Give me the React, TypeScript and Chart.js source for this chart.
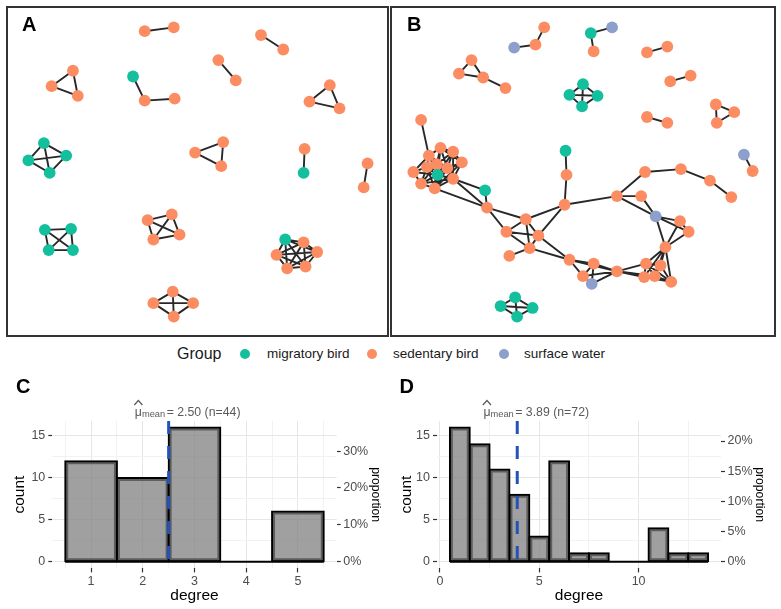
import React, { useEffect, useRef } from 'react';
import { Chart, registerables } from 'chart.js';

Chart.register(...registerables);

const FONT = '"Liberation Sans", Arial, Helvetica, sans-serif';
Chart.defaults.font.family = FONT;

// ---------- groups ----------
const GROUPS = ['migratory bird', 'sedentary bird', 'surface water'];
const GROUP_COLORS = ['#14BF9E', '#FC8D62', '#8DA0CB'];

// ---------- Panel A network (layout coordinates) ----------
const netAX = [143, 173, 263, 286, 219, 237, 69, 47, 74, 131, 143, 174, 334, 313, 344, 39, 23, 62, 45, 224, 195, 222, 308, 307, 373, 369, 40, 67, 44, 69, 146, 171, 179, 152, 288, 307, 321, 309, 290, 279, 172, 152, 193, 173];
const netAY = [26, 22, 30, 45, 56, 77, 67, 83, 93, 73, 98, 96, 82, 99, 106, 142, 160, 155, 173, 141, 152, 166, 148, 173, 163, 188, 232, 231, 253, 253, 222, 216, 237, 242, 242, 245, 255, 270, 272, 258, 296, 308, 308, 322];
const netAGroup = [1, 1, 1, 1, 1, 1, 1, 1, 1, 0, 1, 1, 1, 1, 1, 0, 0, 0, 0, 1, 1, 1, 1, 0, 1, 1, 0, 0, 0, 0, 1, 1, 1, 1, 0, 1, 1, 1, 1, 1, 1, 1, 1, 1];
const netAEdges = [
  [0, 1], [2, 3], [4, 5], [6, 7], [6, 8], [7, 8], [9, 10], [10, 11], [12, 13], [12, 14], [13, 14],
  [15, 16], [15, 17], [15, 18], [16, 17], [16, 18], [17, 18],
  [19, 20], [19, 21], [20, 21], [22, 23], [24, 25],
  [26, 27], [26, 28], [26, 29], [27, 28], [27, 29], [28, 29],
  [30, 31], [30, 32], [30, 33], [31, 32], [31, 33], [32, 33],
  [34, 35], [34, 36], [34, 37], [34, 38], [34, 39], [35, 36], [35, 37], [35, 38], [35, 39], [36, 37], [36, 38], [36, 39], [37, 38], [37, 39], [38, 39],
  [40, 41], [40, 42], [40, 43], [41, 42], [41, 43], [42, 43],
];

// ---------- Panel B network (layout coordinates) ----------
const netBX = [512, 534, 543, 591, 613, 594, 649, 670, 468, 455, 480, 503, 583, 569, 598, 582, 673, 694, 649, 670, 720, 739, 721, 749, 758, 513, 498, 531, 515,
  416, 436, 449, 424, 458, 432, 422, 443, 408, 433, 449, 416, 430, 482, 484, 524, 504, 537, 528, 507, 565, 566, 564, 618, 643, 658, 683, 692, 668, 647, 684, 714, 736, 569, 594, 583, 592, 618, 648, 663, 646, 657, 674];
const netBY = [43, 40, 22, 28, 22, 47, 48, 42, 56, 70, 74, 85, 81, 92, 93, 104, 78, 72, 115, 121, 102, 110, 121, 154, 171, 302, 311, 313, 322,
  118, 147, 151, 155, 162, 164, 167, 168, 172, 175, 179, 184, 189, 191, 209, 221, 234, 238, 251, 259, 150, 175, 206, 197, 197, 218, 223, 234, 250, 172, 169, 181, 198, 263, 267, 280, 288, 275, 267, 269, 281, 280, 286];
const netBGroup = [2, 1, 1, 0, 2, 1, 1, 1, 1, 1, 1, 1, 0, 0, 0, 0, 1, 1, 1, 1, 1, 1, 1, 2, 1, 0, 0, 0, 0,
  1, 1, 1, 1, 1, 1, 1, 1, 1, 0, 1, 1, 1, 0, 1, 1, 1, 1, 1, 1, 0, 1, 1, 1, 1, 2, 1, 1, 1, 1, 1, 1, 1, 1, 1, 1, 2, 1, 1, 1, 1, 1, 1];
const netBEdges = [
  [0, 1], [1, 2], [3, 4], [3, 5], [6, 7], [8, 9], [8, 10], [9, 10], [10, 11],
  [12, 13], [12, 14], [12, 15], [13, 14], [13, 15], [14, 15],
  [16, 17], [18, 19], [20, 21], [20, 22], [21, 22], [23, 24],
  [25, 26], [25, 27], [25, 28], [26, 27], [26, 28], [27, 28],
  [29, 32],
  [30, 31], [30, 32], [30, 33], [30, 34], [30, 36], [30, 38],
  [31, 33], [31, 34], [31, 36], [31, 39], [31, 38],
  [32, 34], [32, 35], [32, 37], [32, 36], [32, 38],
  [33, 36], [33, 39], [33, 38], [33, 41],
  [34, 35], [34, 36], [34, 38], [34, 40], [34, 41],
  [35, 37], [35, 38], [35, 40], [35, 41],
  [36, 38], [36, 39], [36, 41],
  [37, 40], [37, 38],
  [38, 39], [38, 40], [38, 41],
  [39, 41], [39, 40], [40, 41],
  [39, 42], [39, 43], [41, 43], [42, 43],
  [43, 44], [43, 45], [44, 45], [44, 46], [44, 47], [44, 51], [45, 46], [45, 47], [46, 47], [46, 51], [47, 48], [47, 62], [46, 62],
  [49, 50], [50, 51], [51, 52],
  [52, 53], [52, 54], [52, 58], [53, 54], [58, 59], [59, 60], [60, 61],
  [54, 55], [54, 56], [54, 57], [55, 56], [55, 57], [56, 57],
  [57, 67], [57, 68], [57, 69], [57, 70], [57, 71], [67, 68], [67, 69], [67, 70], [67, 71], [68, 70], [68, 71], [69, 70], [69, 71], [70, 71],
  [66, 67], [66, 69], [66, 70],
  [62, 63], [62, 64], [62, 66], [63, 64], [63, 65], [63, 66], [64, 65], [64, 66], [65, 66],
];

// ---------- Histogram C ----------
const degreeC = [1, 2, 3, 4, 5];
const countC = [12, 10, 16, 0, 6];
const nC = 44;
const meanC = 2.5;
const xMajorC = [1, 2, 3, 4, 5];
const xMinorC = [0.5, 1.5, 2.5, 3.5, 4.5, 5.5];
const propTicksC = [0, 0.1, 0.2, 0.3];

// ---------- Histogram D ----------
const degreeD = [1, 2, 3, 4, 5, 6, 7, 8, 9, 10, 11, 12, 13];
const countD = [16, 14, 11, 8, 3, 12, 1, 1, 0, 0, 4, 1, 1];
const nD = 72;
const meanD = 3.89;
const xMajorD = [0, 5, 10];
const xMinorD = [2.5, 7.5, 12.5];
const propTicksD = [0, 0.05, 0.1, 0.15, 0.2];

// shared count ticks
const countMajor = [0, 5, 10, 15];
const countMinor = [2.5, 7.5, 12.5];

// ---------- plugins ----------
const framePlugin = {
  id: 'panelFrame',
  afterDraw(chart: any, _args: any, opts: any) {
    const ctx = chart.ctx;
    const w = chart.width;
    const h = chart.height;
    ctx.save();
    ctx.strokeStyle = '#333333';
    ctx.lineWidth = 2;
    ctx.strokeRect(1, 1, w - 2, h - 2);
    ctx.fillStyle = '#000';
    ctx.font = `bold 20px ${FONT}`;
    ctx.textBaseline = 'alphabetic';
    ctx.textAlign = 'left';
    ctx.fillText(opts.label, opts.x, opts.y);
    ctx.restore();
  },
};

const histLabelsPlugin = {
  id: 'histLabels',
  afterDraw(chart: any, _args: any, opts: any) {
    const ctx = chart.ctx;
    ctx.save();
    ctx.fillStyle = '#000';
    ctx.font = `bold 20px ${FONT}`;
    ctx.textBaseline = 'alphabetic';
    ctx.textAlign = 'left';
    ctx.fillText(opts.letter, opts.letterX, opts.letterY);

    const mx = chart.scales.x.getPixelForValue(opts.mean);
    const base = opts.baseY;
    const grey = '#5A5A5A';
    ctx.fillStyle = grey;
    ctx.font = `12.3px ${FONT}`;
    ctx.fillText(`= ${opts.mean.toFixed(2)} (n=${opts.n})`, mx - 2, base);
    ctx.font = `9.3px ${FONT}`;
    ctx.textAlign = 'right';
    ctx.fillText('mean', mx - 3.5, base + 1);
    const meanW = ctx.measureText('mean').width;
    ctx.font = `12.3px ${FONT}`;
    const muRight = mx - 3.5 - meanW;
    ctx.fillText('μ', muRight, base - 0.5);
    const muW = ctx.measureText('μ').width;
    ctx.strokeStyle = grey;
    ctx.lineWidth = 1.2;
    ctx.beginPath();
    ctx.moveTo(muRight - muW - 0.5, base - 11);
    ctx.lineTo(muRight - muW / 2, base - 15.5);
    ctx.lineTo(muRight + 0.5, base - 11);
    ctx.stroke();
    ctx.restore();
  },
};

// ---------- Network chart ----------
type NetProps = {
  left: number; top: number; width: number; height: number;
  xs: number[]; ys: number[]; groups: number[]; edges: number[][];
  label: string; labelX: number; labelY: number;
};

function NetworkChart(p: NetProps) {
  const ref = useRef<HTMLCanvasElement>(null);
  useEffect(() => {
    if (!ref.current) return;
    const edgeData: any[] = [];
    p.edges.forEach(([a, b]) => {
      edgeData.push({ x: p.xs[a], y: p.ys[a] }, { x: p.xs[b], y: p.ys[b] }, { x: null, y: null });
    });
    const nodeSets = GROUPS.map((g, gi) => ({
      label: g,
      data: p.xs.map((x, i) => ({ x, y: p.ys[i], g: p.groups[i] })).filter((d) => d.g === gi).map((d) => ({ x: d.x, y: d.y })),
      pointRadius: 5.9,
      pointBackgroundColor: GROUP_COLORS[gi],
      pointBorderWidth: 0,
      pointBorderColor: GROUP_COLORS[gi],
      showLine: false,
      order: 1,
    }));
    const chart = new Chart(ref.current, {
      type: 'scatter',
      data: {
        datasets: [
          {
            label: 'edges',
            data: edgeData,
            showLine: true,
            spanGaps: false,
            borderColor: 'rgba(10,10,10,0.88)',
            borderWidth: 1.9,
            pointRadius: 0,
            order: 2,
          } as any,
          ...nodeSets,
        ],
      },
      options: {
        animation: false,
        responsive: false,
        devicePixelRatio: 1,
        events: [],
        layout: { padding: 0 },
        plugins: {
          legend: { display: false },
          tooltip: { enabled: false },
          panelFrame: { label: p.label, x: p.labelX, y: p.labelY },
        } as any,
        scales: {
          x: { type: 'linear', display: false, min: p.left, max: p.left + p.width },
          y: { type: 'linear', display: false, min: p.top, max: p.top + p.height, reverse: true },
        },
      },
      plugins: [framePlugin],
    });
    return () => chart.destroy();
  }, []);
  return (
    <canvas
      ref={ref}
      width={p.width}
      height={p.height}
      style={{ position: 'absolute', left: p.left, top: p.top, width: p.width, height: p.height }}
    />
  );
}

// ---------- Histogram chart ----------
type HistProps = {
  left: number; top: number; width: number; height: number;
  degrees: number[]; counts: number[]; n: number; mean: number;
  xMajor: number[]; xMinor: number[]; propTicks: number[];
  area: { left: number; right: number; top: number; bottom: number };
  yTitlePad: number; y2TitlePad: number; xTitlePad: number;
  letter: string; letterX: number;
};

function Histogram(p: HistProps) {
  const ref = useRef<HTMLCanvasElement>(null);
  useEffect(() => {
    if (!ref.current) return;
    const maxC = Math.max(...p.counts);
    const yLo = -0.05 * maxC;
    const yHi = maxC * 1.05;
    const binLo = p.degrees[0] - 0.5;
    const binHi = p.degrees[p.degrees.length - 1] + 0.5;
    const ex = (binHi - binLo) * 0.05;
    const xLo = binLo - ex;
    const xHi = binHi + ex;
    const yTicks = [...countMajor, ...countMinor].sort((a, b) => a - b);
    const isYMajor = (v: number) => countMajor.includes(v);
    const tickFont = { size: 12.5, family: FONT };
    const gridMajor = '#E6E6E6';
    const gridMinor = '#F2F2F2';
    const tickCol = '#333333';

    const chart = new Chart(ref.current, {
      type: 'bar',
      data: {
        datasets: [
          {
            type: 'bar',
            label: 'count',
            data: p.degrees.map((d, i) => ({ x: d, y: p.counts[i] })),
            backgroundColor: 'rgba(127,127,127,0.74)',
            borderColor: '#000000',
            borderWidth: 2,
            borderSkipped: false,
            inflateAmount: 1,
            barPercentage: 1,
            categoryPercentage: 1,
            grouped: false,
            order: 3,
          } as any,
          {
            type: 'line',
            label: 'base',
            data: [{ x: binLo, y: 0 }, { x: binHi, y: 0 }],
            borderColor: '#000000',
            borderWidth: 2,
            pointRadius: 0,
            order: 2,
          } as any,
          {
            type: 'line',
            label: 'mean',
            data: [{ x: p.mean, y: yHi }, { x: p.mean, y: yLo }],
            borderColor: '#2453B8',
            borderWidth: 3,
            borderDash: [13, 12],
            pointRadius: 0,
            order: 1,
          } as any,
        ],
      },
      options: {
        animation: false,
        responsive: false,
        devicePixelRatio: 1,
        events: [],
        layout: { padding: { top: p.area.top, left: 0, right: 0, bottom: 0 } },
        plugins: {
          legend: { display: false },
          tooltip: { enabled: false },
          histLabels: { letter: p.letter, letterX: p.letterX, letterY: 23, mean: p.mean, n: p.n, baseY: 46 },
        } as any,
        scales: {
          x: {
            type: 'linear',
            position: 'bottom',
            min: xLo,
            max: xHi,
            bounds: 'data',
            offset: false,
            weight: 1,
            afterBuildTicks: (s: any) => { s.ticks = p.xMajor.map((v) => ({ value: v })); },
            afterFit: (s: any) => { s.height = p.height - p.area.bottom; },
            ticks: {
              autoSkip: false,
              maxRotation: 0,
              padding: 2,
              color: '#4D4D4D',
              font: tickFont,
              callback: (v: any) => String(v),
            },
            grid: {
              offset: false,
              color: gridMajor,
              lineWidth: 1,
              tickColor: tickCol,
              tickLength: 4,
              tickWidth: 1.2,
            },
            border: { display: false },
            title: { display: true, text: 'degree', color: '#000', font: { size: 15.5, family: FONT }, padding: { top: 0, bottom: p.xTitlePad } },
          } as any,
          xm: {
            type: 'linear',
            position: 'bottom',
            min: xLo,
            max: xHi,
            bounds: 'data',
            offset: false,
            weight: 2,
            afterBuildTicks: (s: any) => { s.ticks = p.xMinor.map((v) => ({ value: v })); },
            afterFit: (s: any) => { s.height = 0; },
            ticks: { display: false },
            grid: { offset: false, color: gridMinor, lineWidth: 1, drawTicks: false },
            border: { display: false },
          } as any,
          y: {
            type: 'linear',
            position: 'left',
            min: yLo,
            max: yHi,
            bounds: 'data',
            afterBuildTicks: (s: any) => { s.ticks = yTicks.map((v) => ({ value: v })); },
            afterFit: (s: any) => { s.width = p.area.left; },
            ticks: {
              autoSkip: false,
              padding: 3,
              color: '#4D4D4D',
              font: tickFont,
              callback: (v: any) => (isYMajor(v) ? String(v) : ''),
            },
            grid: {
              color: (c: any) => (c.tick && isYMajor(c.tick.value) ? gridMajor : gridMinor),
              lineWidth: 1,
              tickColor: (c: any) => (c.tick && isYMajor(c.tick.value) ? tickCol : 'rgba(0,0,0,0)'),
              tickLength: 4,
              tickWidth: 1.2,
            },
            border: { display: false },
            title: { display: true, text: 'count', color: '#000', font: { size: 15.5, family: FONT }, padding: { top: p.yTitlePad, bottom: 0 } },
          } as any,
          y2: {
            type: 'linear',
            position: 'right',
            min: yLo / p.n,
            max: yHi / p.n,
            bounds: 'data',
            afterBuildTicks: (s: any) => { s.ticks = p.propTicks.map((v) => ({ value: v })); },
            afterFit: (s: any) => { s.width = p.width - p.area.right; },
            ticks: {
              autoSkip: false,
              padding: 2.5,
              color: '#4D4D4D',
              font: tickFont,
              callback: (v: any) => `${Math.round(v * 100)}%`,
            },
            grid: {
              drawOnChartArea: false,
              tickColor: tickCol,
              tickLength: 4,
              tickWidth: 1.2,
            },
            border: { display: false },
            title: { display: true, text: 'proportion', color: '#000', font: { size: 12.2, family: FONT }, padding: { top: p.y2TitlePad, bottom: 0 } },
          } as any,
        },
      },
      plugins: [histLabelsPlugin],
    });
    return () => chart.destroy();
  }, []);
  return (
    <canvas
      ref={ref}
      width={p.width}
      height={p.height}
      style={{ position: 'absolute', left: p.left, top: p.top, width: p.width, height: p.height }}
    />
  );
}

// ---------- legend ----------
function Legend() {
  const dot = (cx: number, color: string) => (
    <div style={{ position: 'absolute', left: cx - 5, top: 349, width: 10, height: 10, borderRadius: '50%', background: color }} />
  );
  const txt = (x: number, s: string, size: number) => (
    <div style={{ position: 'absolute', left: x, top: 344, height: 20, lineHeight: '20px', fontSize: size, color: '#1A1A1A', whiteSpace: 'nowrap', fontFamily: FONT }}>{s}</div>
  );
  return (
    <>
      {txt(177, 'Group', 16)}
      {dot(245, GROUP_COLORS[0])}
      {txt(267, GROUPS[0], 13.5)}
      {dot(372, GROUP_COLORS[1])}
      {txt(393, GROUPS[1], 13.5)}
      {dot(504, GROUP_COLORS[2])}
      {txt(524, GROUPS[2], 13.5)}
    </>
  );
}

export default function App() {
  return (
    <div style={{ position: 'absolute', left: 0, top: 0, width: 781, height: 609, background: '#fff', overflow: 'hidden', fontFamily: FONT }}>
      <NetworkChart left={6} top={6} width={383} height={331} xs={netAX} ys={netAY} groups={netAGroup} edges={netAEdges} label="A" labelX={16} labelY={25} />
      <NetworkChart left={390} top={6} width={386} height={331} xs={netBX} ys={netBY} groups={netBGroup} edges={netBEdges} label="B" labelX={17} labelY={25} />
      <Legend />
      <Histogram
        left={0} top={370} width={390} height={239}
        degrees={degreeC} counts={countC} n={nC} mean={meanC}
        xMajor={xMajorC} xMinor={xMinorC} propTicks={propTicksC}
        area={{ left: 52.3, right: 336.7, top: 50.9, bottom: 198.4 }}
        yTitlePad={10.7} y2TitlePad={7.7} xTitlePad={4.2}
        letter="C" letterX={16}
      />
      <Histogram
        left={390} top={370} width={391} height={239}
        degrees={degreeD} counts={countD} n={nD} mean={meanD}
        xMajor={xMajorD} xMinor={xMinorD} propTicks={propTicksD}
        area={{ left: 47, right: 331, top: 50.9, bottom: 198.4 }}
        yTitlePad={7.7} y2TitlePad={14.4} xTitlePad={4.2}
        letter="D" letterX={9.5}
      />
    </div>
  );
}
